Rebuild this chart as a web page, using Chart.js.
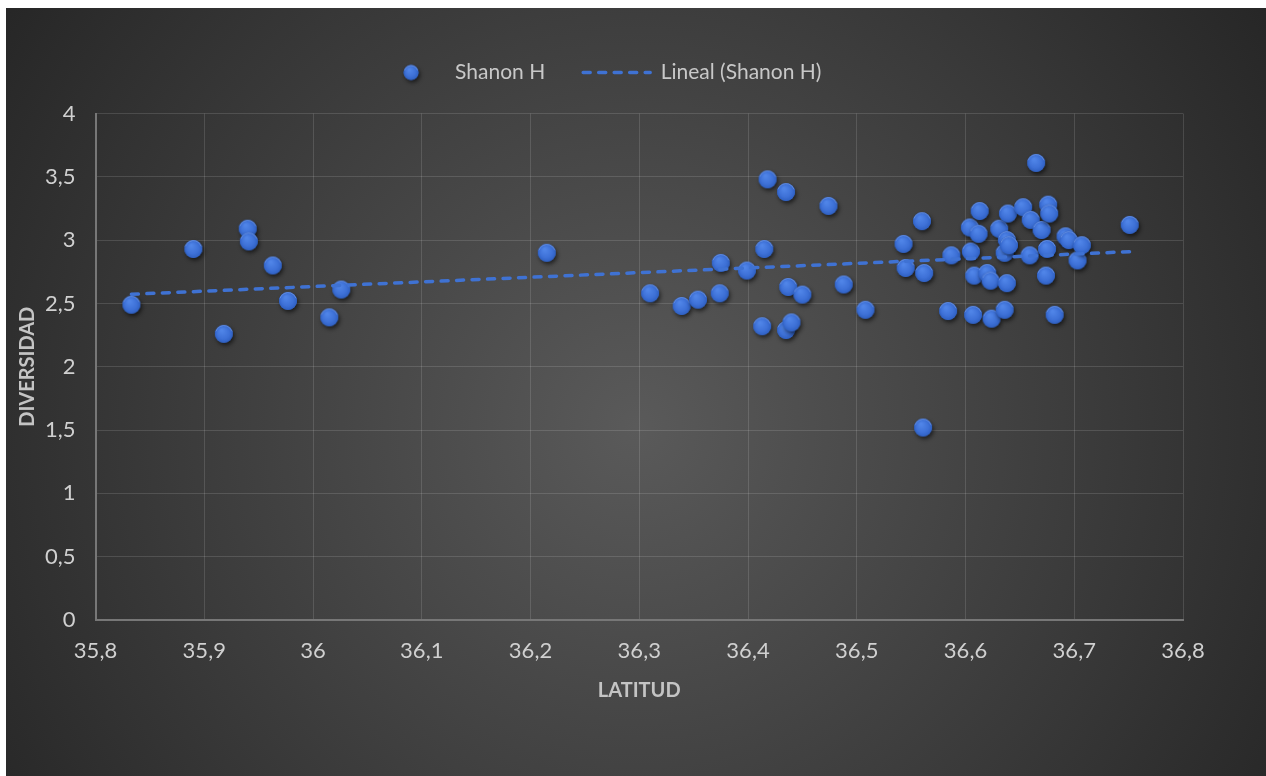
<!DOCTYPE html>
<html>
<head>
<meta charset="utf-8">
<script src="https://cdn.jsdelivr.net/npm/chart.js@4.4.1/dist/chart.umd.min.js"></script>
<style>
  html, body { margin: 0; padding: 0; background: #ffffff; }
  #wrap { position: absolute; left: 6px; top: 8px; width: 1260px; height: 768px; }
</style>
</head>
<body>
<div id="wrap"><canvas id="c" width="1260" height="768"></canvas></div>
<script>
// Sampling sites: latitude and Shannon diversity index
const latitud = [
  35.833, 35.890, 35.918, 35.940, 35.941, 35.963, 35.977, 36.015, 36.026,
  36.215, 36.310, 36.339, 36.354, 36.374, 36.375, 36.399, 36.415, 36.418,
  36.435, 36.413, 36.435, 36.440, 36.437, 36.450, 36.474, 36.488, 36.508,
  36.543, 36.545, 36.560, 36.562, 36.561, 36.584, 36.587, 36.604, 36.605,
  36.608, 36.607, 36.612, 36.613, 36.620, 36.623, 36.624, 36.631, 36.636,
  36.638, 36.639, 36.638, 36.636, 36.640, 36.653, 36.659, 36.660, 36.665,
  36.670, 36.675, 36.674, 36.676, 36.677, 36.682, 36.692, 36.695, 36.703,
  36.707, 36.751
];
const shannonH = [
  2.49, 2.93, 2.26, 3.09, 2.99, 2.80, 2.52, 2.39, 2.61,
  2.90, 2.58, 2.48, 2.53, 2.58, 2.82, 2.76, 2.93, 3.48,
  3.38, 2.32, 2.29, 2.35, 2.63, 2.57, 3.27, 2.65, 2.45,
  2.97, 2.78, 3.15, 2.74, 1.52, 2.44, 2.88, 3.10, 2.91,
  2.72, 2.41, 3.05, 3.23, 2.74, 2.68, 2.38, 3.09, 2.45,
  2.66, 3.21, 3.00, 2.90, 2.96, 3.26, 2.88, 3.16, 3.61,
  3.08, 2.93, 2.72, 3.28, 3.21, 2.41, 3.03, 3.00, 2.84,
  2.96, 3.12
];
const xTicks = [35.8, 35.9, 36.0, 36.1, 36.2, 36.3, 36.4, 36.5, 36.6, 36.7, 36.8];
const yTicks = [0, 0.5, 1, 1.5, 2, 2.5, 3, 3.5, 4];

const seriesName = 'Shanon H';
const trendName = 'Lineal (Shanon H)';
const xTitle = 'LATITUD';
const yTitle = 'DIVERSIDAD';

// Least-squares linear trendline over the data range
function linearFit(xs, ys) {
  const n = xs.length;
  let sx = 0, sy = 0, sxx = 0, sxy = 0;
  for (let i = 0; i < n; i++) { sx += xs[i]; sy += ys[i]; sxx += xs[i] * xs[i]; sxy += xs[i] * ys[i]; }
  const b = (n * sxy - sx * sy) / (n * sxx - sx * sx);
  const a = (sy - b * sx) / n;
  return { a, b };
}
const fit = linearFit(latitud, shannonH);
const xMin = Math.min(...latitud), xMax = Math.max(...latitud);

// Shaded sphere marker with soft drop shadow
function makeMarker(r) {
  let size = Math.ceil(r * 2 + 16);
  if (size % 2) size += 1;
  const c = document.createElement('canvas');
  c.width = c.height = size;
  const g = c.getContext('2d');
  const cx = size / 2, cy = size / 2;
  g.save();
  g.shadowColor = 'rgba(0,0,0,0.6)';
  g.shadowBlur = 4;
  g.shadowOffsetX = 1.5;
  g.shadowOffsetY = 2.5;
  g.beginPath(); g.arc(cx, cy, r, 0, Math.PI * 2);
  g.fillStyle = '#3363c4'; g.fill();
  g.restore();
  const grad = g.createRadialGradient(cx - r * 0.25, cy - r * 0.4, r * 0.1, cx, cy, r);
  grad.addColorStop(0, '#5085e8');
  grad.addColorStop(0.65, '#3e71d7');
  grad.addColorStop(1, '#2f60c2');
  g.beginPath(); g.arc(cx, cy, r, 0, Math.PI * 2);
  g.fillStyle = grad; g.fill();
  // faint rim highlight along the top edge
  g.beginPath(); g.arc(cx, cy, r - 0.6, Math.PI * 1.1, Math.PI * 1.9);
  g.strokeStyle = 'rgba(140,175,240,0.55)'; g.lineWidth = 1; g.stroke();
  return c;
}
const pointMarker = makeMarker(9);
const legendMarker = makeMarker(7.5);

const fmt = v => String(Math.round(v * 10) / 10).replace('.', ',');
const FONT = 'Lato, "Open Sans", sans-serif';
const TREND_COLOR = '#3f72d3';
const TREND_DASH = [7, 8.5];

const background = {
  id: 'background',
  beforeDraw(chart) {
    const { ctx, width, height } = chart;
    const g = ctx.createRadialGradient(630, 420, 0, 630, 420, 780);
    g.addColorStop(0, '#5a5a5a');
    g.addColorStop(1, '#252525');
    ctx.save();
    ctx.fillStyle = g;
    ctx.fillRect(0, 0, width, height);
    ctx.restore();
  }
};

new Chart(document.getElementById('c'), {
  type: 'scatter',
  data: {
    datasets: [
      {
        label: seriesName,
        data: latitud.map((x, i) => ({ x, y: shannonH[i] })),
        pointStyle: pointMarker,
        pointRadius: 9,
        order: 1
      },
      {
        type: 'line',
        label: trendName,
        data: [
          { x: xMin, y: fit.a + fit.b * xMin },
          { x: xMax, y: fit.a + fit.b * xMax }
        ],
        borderColor: TREND_COLOR,
        borderWidth: 3.5,
        borderDash: TREND_DASH,
        borderCapStyle: 'round',
        pointRadius: 0,
        fill: false,
        order: 0
      }
    ]
  },
  options: {
    responsive: false,
    animation: false,
    devicePixelRatio: 1,
    layout: { padding: { top: 16, left: 10, right: 83, bottom: 66 } },
    plugins: {
      tooltip: { enabled: false },
      // empty spacer between the legend row and the plot area
      subtitle: {
        display: true,
        text: '',
        position: 'top',
        weight: 500,
        font: { size: 1 },
        padding: { top: 0, bottom: 19.3 }
      },
      legend: {
        position: 'top',
        labels: {
          usePointStyle: true,
          pointStyleWidth: 67,
          padding: 38,
          color: '#c8c8c8',
          font: { family: FONT, size: 21 },
          generateLabels() {
            return [
              { text: seriesName, pointStyle: legendMarker, fillStyle: '#3d6fd4',
                strokeStyle: 'rgba(0,0,0,0)', lineWidth: 0, fontColor: '#c8c8c8', datasetIndex: 0, hidden: false },
              { text: trendName, pointStyle: 'line', fillStyle: 'rgba(0,0,0,0)',
                strokeStyle: TREND_COLOR, lineWidth: 3.5, lineDash: TREND_DASH, lineCap: 'round',
                fontColor: '#c8c8c8', datasetIndex: 1, hidden: false }
            ];
          }
        }
      }
    },
    scales: {
      x: {
        type: 'linear',
        min: xTicks[0],
        max: xTicks[xTicks.length - 1],
        afterBuildTicks(scale) { scale.ticks = xTicks.map(v => ({ value: v })); },
        afterFit(scale) { scale.height = 90; },
        ticks: { color: '#d0d0d0', font: { family: FONT, size: 22 }, padding: 18, callback: fmt, maxRotation: 0 },
        grid: { color: 'rgba(255,255,255,0.13)', lineWidth: 1, drawTicks: false },
        border: { color: '#777777', width: 2 },
        title: { display: true, text: xTitle, color: '#c4c4c4', font: { family: FONT, size: 20, weight: 'bold' }, padding: { bottom: 7 } }
      },
      y: {
        type: 'linear',
        min: yTicks[0],
        max: yTicks[yTicks.length - 1],
        afterBuildTicks(scale) { scale.ticks = yTicks.map(v => ({ value: v })); },
        afterFit(scale) { scale.width = 79.5; },
        ticks: { color: '#d0d0d0', font: { family: FONT, size: 22 }, padding: 20, callback: fmt },
        grid: { color: 'rgba(255,255,255,0.13)', lineWidth: 1, drawTicks: false },
        border: { color: '#777777', width: 2 },
        title: { display: true, text: yTitle, color: '#c4c4c4', font: { family: FONT, size: 20, weight: 'bold' }, padding: { top: 0 } }
      }
    }
  },
  plugins: [background]
});
</script>
</body>
</html>
